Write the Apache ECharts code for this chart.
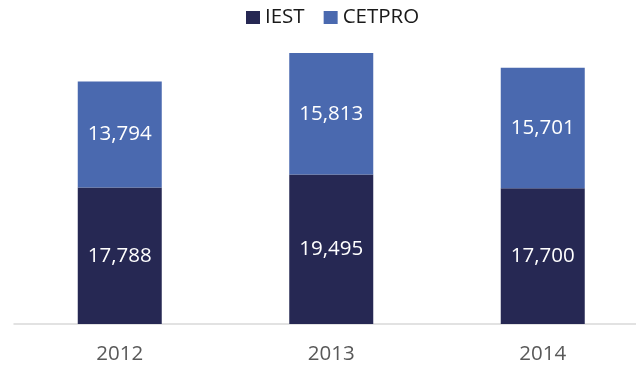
<!DOCTYPE html>
<html>
<head>
<meta charset="utf-8">
<script src="https://cdn.jsdelivr.net/npm/echarts@6/dist/echarts.min.js"></script>
<style>
  html, body { margin: 0; padding: 0; background: #ffffff; overflow: hidden; }
  #wrap { width: 636px; height: 367px; overflow: hidden; }
  /* the category axis runs past the right edge, so the canvas is wider than the frame */
  #chart { width: 652px; height: 367px; }
</style>
</head>
<body>
<div id="wrap"><div id="chart"></div></div>
<script>
// Enrolment by year, split by institution type
const years = ['2012', '2013', '2014'];
const iestValues = [17788, 19495, 17700];
const cetproValues = [13794, 15813, 15701];
const seriesNames = ['IEST', 'CETPRO'];

const FONT = '"Open Sans", "Noto Sans", sans-serif';
const chart = echarts.init(document.getElementById('chart'), null, { renderer: 'canvas' });

const labelStyle = {
  show: true,
  position: 'inside',
  color: '#ffffff',
  fontFamily: FONT,
  fontSize: 20.5,
  formatter: p => p.value.toLocaleString('en-US')
};

chart.setOption({
  animation: false,
  legend: {
    data: seriesNames,
    top: 7,
    left: 246,
    padding: 0,
    itemWidth: 14,
    itemHeight: 13,
    itemGap: 19,
    icon: 'rect',
    textStyle: { fontFamily: FONT, fontSize: 20.5, color: '#1a1a1a', padding: [0, 0, 0, 0] }
  },
  grid: { left: 14, top: 17, width: 634.5, height: 307, containLabel: false },
  xAxis: {
    type: 'category',
    data: years,
    axisLine: { show: true, lineStyle: { color: '#d9d9d9', width: 1.5 } },
    axisTick: { show: false },
    axisLabel: { color: '#595959', fontFamily: FONT, fontSize: 20.5, margin: 20 }
  },
  yAxis: {
    type: 'value',
    min: 0,
    max: 40000,
    show: false,
    splitLine: { show: false }
  },
  series: [
    {
      name: seriesNames[0],
      type: 'bar',
      stack: 'total',
      data: iestValues,
      barWidth: 84,
      itemStyle: { color: '#262853' },
      label: labelStyle
    },
    {
      name: seriesNames[1],
      type: 'bar',
      stack: 'total',
      data: cetproValues,
      barWidth: 84,
      itemStyle: { color: '#4a69af' },
      label: labelStyle
    }
  ]
});
</script>
</body>
</html>
